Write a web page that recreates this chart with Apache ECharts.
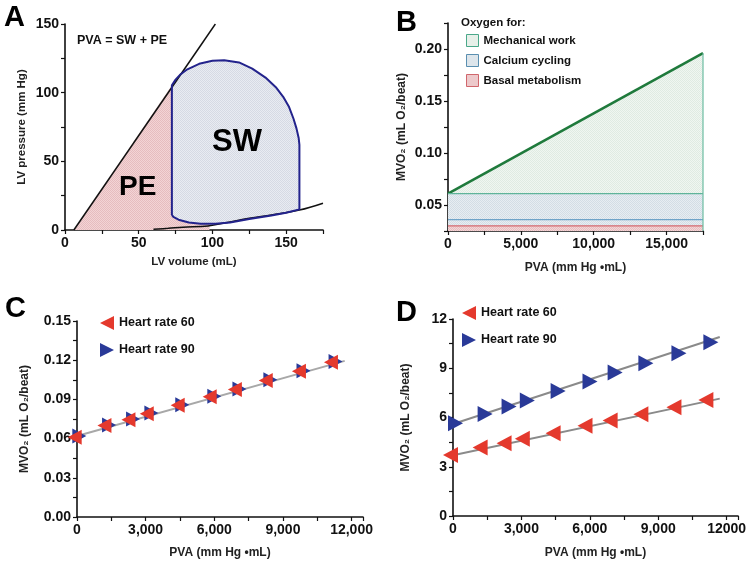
<!DOCTYPE html>
<html><head><meta charset="utf-8">
<script src="https://cdn.jsdelivr.net/npm/echarts@6/dist/echarts.min.js"></script>
<style>html,body{margin:0;padding:0;background:#fff}#c{width:752px;height:566px}</style>
</head><body><div id="c"></div>
<script>
// ---- Panel A data ----
var espvrV = [6, 102];
var espvrP = [0, 150];
var edpvrV = [60, 70, 80, 97, 110, 125, 140, 159, 175];
var edpvrP = [0.5, 1.2, 2, 3, 5.5, 8.5, 11, 14.5, 19.5];
var loopV = [72.5, 72.5, 75, 78, 83, 91, 100, 108, 118, 127, 136, 143, 148, 152, 155, 157, 158.5, 159, 159, 150, 140, 125, 112, 102, 92, 84, 77, 73.5, 72.5];
var loopP = [11, 105.4, 109.5, 113, 117, 121, 123.2, 123.6, 122, 117.5, 111, 104, 97, 89.5, 81, 74, 67, 62, 15, 12.5, 10.5, 8, 5.5, 4.5, 4.5, 5.5, 7.5, 9.5, 11];
var peV = [6, 72.5, 72.5, 73.5, 77, 84, 92, 98, 98];
var peP = [0, 105.4, 11, 9.5, 7.5, 5.5, 4.5, 4.4, 0];
var aXTicks = [0, 50, 100, 150];
var aYTicks = [0, 50, 100, 150];

// ---- Panel B data ----
var bPVA = [0, 17500];
var bMechanical = [0.061, 0.196];
var bCalciumTop = [0.061, 0.061];
var bCalciumLine = [0.036, 0.036];
var bBasalTop = [0.030, 0.030];

// ---- Panels C & D data ----
var pvaPoints = [0, 1300, 2350, 3150, 4500, 5900, 7000, 8350, 9800, 11200];
var cHR60 = [0.061, 0.070, 0.0745, 0.079, 0.0855, 0.092, 0.0975, 0.1045, 0.1115, 0.1185];
var cHR90 = [0.062, 0.0705, 0.075, 0.0795, 0.086, 0.0925, 0.098, 0.105, 0.112, 0.119];
var cFitX = [0, 11700];
var cFitY = [0.062, 0.1195];
var dHR60 = [3.72, 4.17, 4.43, 4.70, 5.04, 5.49, 5.81, 6.20, 6.63, 7.07];
var dHR90 = [5.65, 6.22, 6.67, 7.03, 7.62, 8.19, 8.74, 9.31, 9.92, 10.59];
var dFitX = [0, 11700];
var dFit60 = [3.7, 7.15];
var dFit90 = [5.6, 10.9];

var FONT = 'Liberation Sans, Arial, sans-serif';
var RED = '#e4392d', BLUE = '#2a3a98';

function pat(bg, dot) {
  var c = document.createElement('canvas'); c.width = 2; c.height = 2;
  var g = c.getContext('2d');
  g.fillStyle = bg; g.fillRect(0, 0, 2, 2);
  g.fillStyle = dot; g.fillRect(0, 0, 1, 1); g.fillRect(1, 1, 1, 1);
  return { image: c, repeat: 'repeat' };
}
var pPE = pat('#f3d4d5', '#e6bcbf');
var pSW = pat('#e9ecf2', '#d6dae4');
var pMech = pat('#f0f6f1', '#dfebe2');
var pCalc = pat('#e7edf2', '#d3dde5');
var pBasal = pat('#f4d7d8', '#e6bcbf');

function zip(a, b) { return a.map(function (v, i) { return [v, b[i]]; }); }
function near(v, step) { return Math.abs(v / step - Math.round(v / step)) < 1e-6; }

function axis(o) {
  return {
    type: 'value', min: o.min, max: o.max, interval: o.interval,
    gridIndex: o.grid,
    axisLine: { show: true, onZero: false, lineStyle: { color: '#111', width: 1.6 } },
    axisTick: { show: true, inside: false, length: 4, lineStyle: { color: '#111', width: 1.2 } },
    splitLine: { show: false },
    axisLabel: { color: '#111', fontSize: 14, fontWeight: 'bold', fontFamily: FONT, margin: 6, formatter: o.fmt, showMaxLabel: true, showMinLabel: true },
    name: o.name, nameLocation: 'middle', nameGap: o.gap,
    nameTextStyle: { color: '#222', fontSize: o.nfs || 12, fontWeight: 'bold', fontFamily: FONT }
  };
}
function polygonSeries(xi, V, P, fill) {
  return {
    type: 'custom', xAxisIndex: xi, yAxisIndex: xi, data: [[V[0], P[0]]], silent: true, z: 1,
    renderItem: function (params, api) {
      var pts = V.map(function (v, i) { return api.coord([v, P[i]]); });
      return { type: 'polygon', shape: { points: pts }, style: { fill: fill, stroke: null } };
    }
  };
}
function lineS(xi, data, color, width, extra) {
  var s = { type: 'line', xAxisIndex: xi, yAxisIndex: xi, data: data, showSymbol: false, symbol: 'none',
    lineStyle: { color: color, width: width }, itemStyle: { color: color }, silent: true, animation: false, z: 3 };
  if (extra) for (var k in extra) s[k] = extra[k];
  return s;
}
var leftTri = 'path://M0,5 L10,0 L10,10 Z';
var rightTri = 'path://M0,0 L10,5 L0,10 Z';

var chart = echarts.init(document.getElementById('c'), null, { renderer: 'canvas' });
var option = {
  animation: false,
  backgroundColor: '#fff',
  grid: [
    { left: 65, top: 24, width: 258, height: 206 },
    { left: 448, top: 23, width: 255, height: 208 },
    { left: 77, top: 321, width: 286, height: 196 },
    { left: 453, top: 319, width: 285, height: 197 }
  ],
  xAxis: [
    axis({ grid: 0, min: 0, max: 175, interval: 25, fmt: function (v) { return aXTicks.indexOf(v) >= 0 ? String(v) : ''; }, name: 'LV volume (mL)', gap: 26, nfs: 11.5 }),
    axis({ grid: 1, min: 0, max: 17500, interval: 2500, fmt: function (v) { return near(v, 5000) && v < 17500 ? v.toLocaleString('en-US') : ''; }, name: 'PVA (mm Hg •mL)', gap: 31 }),
    axis({ grid: 2, min: 0, max: 12500, interval: 1500, fmt: function (v) { return near(v, 3000) ? v.toLocaleString('en-US') : ''; }, name: 'PVA (mm Hg •mL)', gap: 30 }),
    axis({ grid: 3, min: 0, max: 12500, interval: 1500, fmt: function (v) { return near(v, 3000) ? (v === 12000 ? '12000' : v.toLocaleString('en-US')) : ''; }, name: 'PVA (mm Hg •mL)', gap: 31 })
  ],
  yAxis: [
    axis({ grid: 0, min: 0, max: 150, interval: 25, fmt: function (v) { return aYTicks.indexOf(v) >= 0 ? String(v) : ''; }, name: 'LV pressure (mm Hg)', gap: 37, nfs: 11.5 }),
    axis({ grid: 1, min: 0.025, max: 0.225, interval: 0.025, fmt: function (v) { return near(v, 0.05) ? v.toFixed(2) : ''; }, name: 'MVO₂ (mL O₂/beat)', gap: 40 }),
    axis({ grid: 2, min: 0, max: 0.15, interval: 0.015, fmt: function (v) { return near(v, 0.03) ? v.toFixed(2) : ''; }, name: 'MVO₂ (mL O₂/beat)', gap: 46 }),
    axis({ grid: 3, min: 0, max: 12, interval: 1.5, fmt: function (v) { return near(v, 3) ? String(Math.round(v)) : ''; }, name: 'MVO₂ (mL O₂/beat)', gap: 41 })
  ],
  legend: [
    {
      orient: 'vertical', left: 466, top: 34, padding: 0, itemWidth: 12, itemHeight: 12, itemGap: 7,
      textStyle: { color: '#111', fontSize: 11.5, fontWeight: 'bold', fontFamily: FONT },
      data: [
        { name: 'Mechanical work', icon: 'rect', itemStyle: { color: pMech, borderColor: '#4aa88a', borderWidth: 1 } },
        { name: 'Calcium cycling', icon: 'rect', itemStyle: { color: pCalc, borderColor: '#5a8fb0', borderWidth: 1 } },
        { name: 'Basal metabolism', icon: 'rect', itemStyle: { color: pBasal, borderColor: '#d0666c', borderWidth: 1 } }
      ],
      selectedMode: false
    },
    {
      orient: 'vertical', left: 100, top: 316, padding: 0, itemWidth: 14, itemHeight: 14, itemGap: 13,
      textStyle: { color: '#111', fontSize: 12.5, fontWeight: 'bold', fontFamily: FONT },
      data: [{ name: 'Heart rate 60', icon: leftTri }, { name: 'Heart rate 90', icon: rightTri }],
      selectedMode: false
    },
    {
      orient: 'vertical', left: 462, top: 306, padding: 0, itemWidth: 14, itemHeight: 14, itemGap: 13,
      textStyle: { color: '#111', fontSize: 12.5, fontWeight: 'bold', fontFamily: FONT },
      data: [{ name: 'Heart rate 60', icon: leftTri }, { name: 'Heart rate 90', icon: rightTri }],
      selectedMode: false
    }
  ],
  graphic: [
    { type: 'text', z: 100, left: 4, top: 3, style: { text: 'A', font: 'bold 29px ' + FONT, fill: '#000' } },
    { type: 'text', z: 100, left: 396, top: 8, style: { text: 'B', font: 'bold 29px ' + FONT, fill: '#000' } },
    { type: 'text', z: 100, left: 5, top: 294, style: { text: 'C', font: 'bold 29px ' + FONT, fill: '#000' } },
    { type: 'text', z: 100, left: 396, top: 298, style: { text: 'D', font: 'bold 29px ' + FONT, fill: '#000' } },
    { type: 'text', z: 100, left: 77, top: 34, style: { text: 'PVA = SW + PE', font: 'bold 12.5px ' + FONT, fill: '#111' } },
    { type: 'text', z: 100, left: 212, top: 127, style: { text: 'SW', font: 'bold 31px ' + FONT, fill: '#000' } },
    { type: 'text', z: 100, left: 119, top: 173, style: { text: 'PE', font: 'bold 28px ' + FONT, fill: '#000' } },
    { type: 'text', z: 100, left: 461, top: 17, style: { text: 'Oxygen for:', font: 'bold 11.5px ' + FONT, fill: '#111' } }
  ],
  series: [
    // Panel A
    polygonSeries(0, peV, peP, pPE),
    polygonSeries(0, loopV, loopP, pSW),
    lineS(0, zip(espvrV, espvrP), '#111', 1.5),
    lineS(0, zip(edpvrV, edpvrP), '#111', 1.5, { smooth: 0.4 }),
    lineS(0, zip(loopV, loopP), '#23238c', 2, { z: 4 }),
    // Panel B
    lineS(1, zip(bPVA, bMechanical), '#1f7a3c', 2.6, { name: 'Mechanical work', areaStyle: { color: pMech, opacity: 1, origin: 'start' }, z: 2, itemStyle: { color: '#4aa88a' } }),
    lineS(1, zip(bPVA, bCalciumTop), '#5fb49a', 1.2, { name: 'Calcium cycling', areaStyle: { color: pCalc, opacity: 1, origin: 'start' }, z: 3, itemStyle: { color: '#5a8fb0' } }),
    lineS(1, zip(bPVA, bCalciumLine), '#6fa3c8', 1.2, { z: 4 }),
    lineS(1, zip(bPVA, bBasalTop), '#d46a70', 1.2, { name: 'Basal metabolism', areaStyle: { color: pBasal, opacity: 1, origin: 'start' }, z: 5, itemStyle: { color: '#d0666c' } }),
    lineS(1, [[bPVA[1], bMechanical[1]], [bPVA[1], 0.025]], '#6cbca2', 1.2, { z: 6 }),
    // Panel C
    lineS(2, zip(cFitX, cFitY), '#a8a8a8', 2, { z: 2 }),
    { type: 'scatter', name: 'Heart rate 90', xAxisIndex: 2, yAxisIndex: 2, data: zip(pvaPoints, cHR90), symbol: rightTri, symbolSize: [14, 15], symbolOffset: [2.3, 0], itemStyle: { color: BLUE, opacity: 1 }, z: 5, silent: true },
    { type: 'scatter', name: 'Heart rate 60', xAxisIndex: 2, yAxisIndex: 2, data: zip(pvaPoints, cHR60), symbol: leftTri, symbolSize: [14, 15], symbolOffset: [-2.3, 0], itemStyle: { color: RED, opacity: 1 }, z: 6, silent: true },
    // Panel D
    lineS(3, zip(dFitX, dFit60), '#8a8a8a', 2, { z: 2 }),
    lineS(3, zip(dFitX, dFit90), '#8a8a8a', 2, { z: 2 }),
    { type: 'scatter', name: 'Heart rate 90', xAxisIndex: 3, yAxisIndex: 3, data: zip(pvaPoints, dHR90), symbol: rightTri, symbolSize: [15, 16], symbolOffset: [2.5, 0], itemStyle: { color: BLUE, opacity: 1 }, z: 5, silent: true },
    { type: 'scatter', name: 'Heart rate 60', xAxisIndex: 3, yAxisIndex: 3, data: zip(pvaPoints, dHR60), symbol: leftTri, symbolSize: [15, 16], symbolOffset: [-2.5, 0], itemStyle: { color: RED, opacity: 1 }, z: 6, silent: true }
  ]
};
chart.setOption(option);
</script>
</body></html>
